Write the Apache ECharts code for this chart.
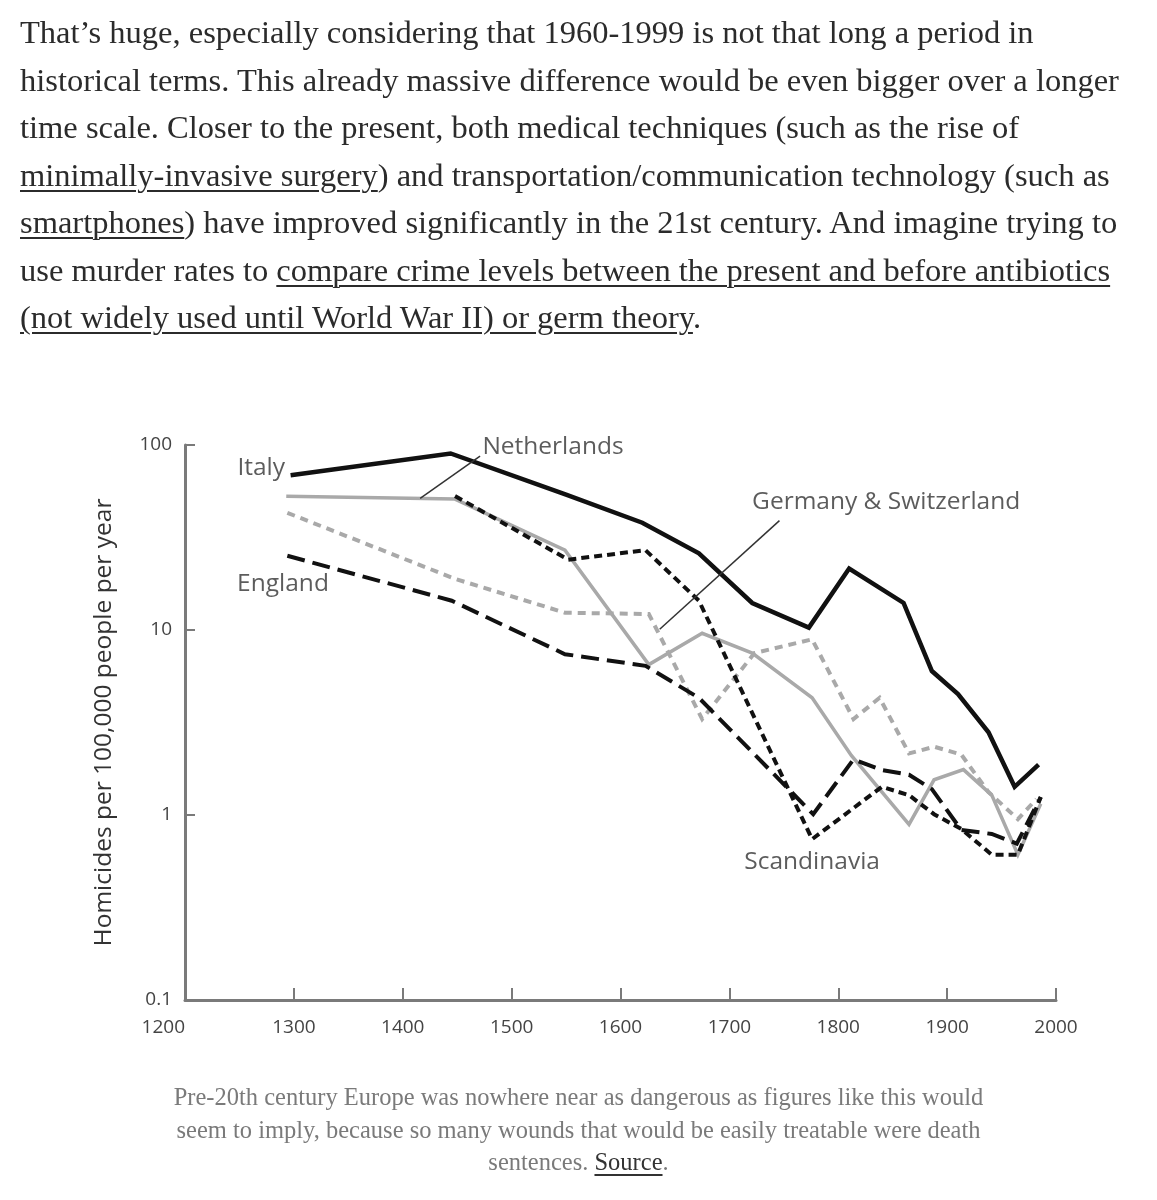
<!DOCTYPE html>
<html>
<head>
<meta charset="utf-8">
<script src="https://cdn.jsdelivr.net/npm/echarts/dist/echarts.min.js"></script>
<style>
  html, body { margin: 0; padding: 0; background: #fff; }
  body { width: 1157px; height: 1200px; position: relative; overflow: hidden; }
  #chart { position: absolute; left: 0; top: 0; width: 1157px; height: 1200px; }
  #para { position: absolute; left: 20px; top: 9px; font-family: 'Liberation Serif', serif; font-size: 32.5px;
          line-height: 47.5px; color: #2b2b2b; white-space: nowrap; pointer-events: none; }
  #para u, #cap u { text-decoration: underline; text-decoration-thickness: 2px; text-underline-offset: 4px; }
  #cap { position: absolute; left: 0; top: 1081px; width: 1157px; text-align: center; font-family: 'Liberation Serif', serif;
         font-size: 24.5px; line-height: 32.5px; color: #7a7a7a; white-space: nowrap; pointer-events: none; }
  #cap u { color: #333; }
</style>
</head>
<body>
<div id="chart"></div>
<div id="para">
That’s huge, especially considering that 1960-1999 is not that long a period in<br>
historical terms. This already massive difference would be even bigger over a longer<br>
time scale. Closer to the present, both medical techniques (such as the rise of<br>
<u>minimally-invasive surgery</u>) and transportation/communication technology (such as<br>
<u>smartphones</u>) have improved significantly in the 21st century. And imagine trying to<br>
use murder rates to <u>compare crime levels between the present and before antibiotics</u><br>
<u>(not widely used until World War II) or germ theory</u>.
</div>
<div id="cap">
Pre-20th century Europe was nowhere near as dangerous as figures like this would<br>
seem to imply, because so many wounds that would be easily treatable were death<br>
sentences. <u>Source</u>.
</div>
<script>
// ---- data: [year, homicides per 100,000 per year] ----
const italy = [[1297,68.7],[1444,90],[1550,54],[1620,38],[1672,26],[1721,14],[1773,10.3],[1810,21.5],[1860,14],[1886,6.0],[1910,4.5],[1938,2.8],[1962,1.42],[1984,1.87]];
const netherlands = [[1293,52.8],[1448,51],[1549,27],[1626,6.5],[1675,9.6],[1721,7.5],[1776,4.3],[1812,2.1],[1865,0.89],[1888,1.55],[1915,1.76],[1941,1.28],[1965,0.61],[1986,1.15]];
const germanySwitzerland = [[1294,43],[1448,18.9],[1549,12.4],[1626,12.2],[1675,3.3],[1723,7.5],[1776,8.9],[1814,3.3],[1838,4.3],[1865,2.15],[1888,2.34],[1913,2.12],[1938,1.33],[1965,0.95],[1982,1.22]];
const england = [[1294,25.2],[1445,14.4],[1549,7.4],[1623,6.4],[1672,4.3],[1777,1.01],[1814,2.0],[1840,1.75],[1865,1.65],[1886,1.38],[1913,0.83],[1941,0.79],[1964,0.70],[1986,1.25]];
const scandinavia = [[1448,53],[1552,24],[1623,27],[1672,14.4],[1776,0.74],[1840,1.42],[1865,1.28],[1888,1.01],[1913,0.84],[1941,0.61],[1965,0.61],[1986,1.25]];
// labels placed in data space
const seriesLabels = [[1270,75,'Italy'],[1538,97.5,'Netherlands'],[1844,49,'Germany & Switzerland'],[1290,17.8,'England'],[1776,0.555,'Scandinavia']];
const pointerLines = [[[1471,87],[1416,51.5]],[[1746,39],[1636,10.1]]];
const xTicks = [1200,1300,1400,1500,1600,1700,1800,1900,2000];
const yTicks = [0.1,1,10,100];
const yTitle = 'Homicides per 100,000 people per year';

const font = 'Open Sans';
const chart = echarts.init(document.getElementById('chart'));
const axisColor = '#7a7a7a';
function lineSeries(name, data, color, width, type, z) {
  return { name, type: 'line', data, symbol: 'none', z,
    lineStyle: { color, width, type, cap: 'butt', join: 'miter' } };
}
chart.setOption({
  animation: false,
  grid: { left: 185, right: 101, top: 445, bottom: 200 },
  xAxis: {
    type: 'value', min: xTicks[0], max: xTicks[xTicks.length-1], interval: 100,
    axisLine: { show: true, lineStyle: { color: axisColor, width: 3 } },
    axisTick: { show: true, inside: true, length: 12, lineStyle: { color: axisColor, width: 2 } },
    axisLabel: { color: '#444', fontSize: 19, margin: 18, fontFamily: font, alignMinLabel: 'right',
      formatter: v => String(v) },
    splitLine: { show: false }
  },
  yAxis: {
    type: 'log', logBase: 10, min: yTicks[0], max: yTicks[yTicks.length-1],
    axisLine: { show: true, lineStyle: { color: axisColor, width: 3 } },
    axisTick: { show: true, inside: true, length: 10, lineStyle: { color: axisColor, width: 2 } },
    axisLabel: { color: '#444', fontSize: 19, margin: 13, fontFamily: font,
      formatter: v => { const r = yTicks.find(t => Math.abs(t - v) / t < 1e-6); return r === undefined ? '' : String(r); } },
    splitLine: { show: false },
    name: yTitle, nameLocation: 'middle', nameRotate: 90, nameGap: 68,
    nameTextStyle: { fontSize: 24.5, color: '#333', fontFamily: font }
  },
  series: [
    lineSeries('Netherlands', netherlands, '#a9a9a9', 3.5, 'solid', 2),
    lineSeries('Germany & Switzerland', germanySwitzerland, '#a9a9a9', 4, [8, 6], 2),
    lineSeries('England', england, '#111', 4, [18, 8], 3),
    lineSeries('Scandinavia', scandinavia, '#111', 4, [8, 5], 3),
    lineSeries('Italy', italy, '#111', 4.5, 'solid', 4),
    { type: 'lines', coordinateSystem: 'cartesian2d', z: 5,
      data: pointerLines.map(c => ({ coords: c })),
      lineStyle: { color: '#333', width: 1.5, opacity: 1, curveness: 0 } },
    { type: 'scatter', z: 6, data: seriesLabels, symbolSize: 1,
      itemStyle: { color: 'rgba(0,0,0,0)' },
      label: { show: true, position: 'inside', formatter: p => p.data[2], fontSize: 24.5, color: '#333', fontFamily: font } }
  ]
});
</script>
</body>
</html>
